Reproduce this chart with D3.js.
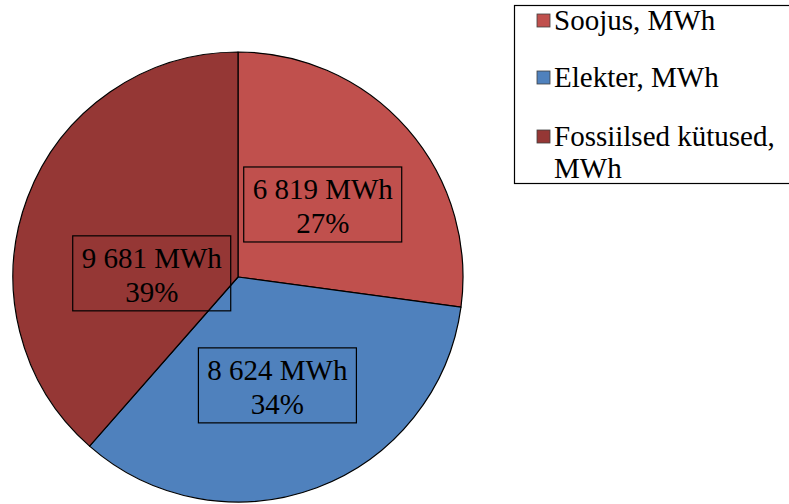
<!DOCTYPE html>
<html>
<head>
<meta charset="utf-8">
<script src="https://cdn.jsdelivr.net/npm/d3@7/dist/d3.min.js"></script>
<style>
  html, body { margin: 0; padding: 0; background: #fff; }
  svg { display: block; }
</style>
</head>
<body>
<svg id="chart" width="789" height="504"></svg>
<script>
const categories = ["Soojus, MWh", "Elekter, MWh", "Fossiilsed kütused, MWh"];
const legendLines = [["Soojus, MWh"], ["Elekter, MWh"], ["Fossiilsed kütused,", "MWh"]];
const values = [6819, 8624, 9681];
const valueLabels = ["6 819 MWh", "8 624 MWh", "9 681 MWh"];
const percentLabels = ["27%", "34%", "39%"];
const colors = ["#C0504D", "#4F81BD", "#953735"];

const FONT = "'Liberation Serif', 'Times New Roman', serif";
const svg = d3.select("#chart");
const cx = 238, cy = 277, r = 225;

const pie = d3.pie().sort(null).value(d => d)(values);
const arc = d3.arc().innerRadius(0).outerRadius(r);
const labelArc = d3.arc().innerRadius(r * 0.5).outerRadius(r * 0.5);

const g = svg.append("g").attr("transform", `translate(${cx},${cy})`);
g.selectAll("path.slice").data(pie).join("path")
  .attr("class", "slice")
  .attr("d", arc)
  .attr("fill", (d, i) => colors[i])
  .attr("stroke", "#000")
  .attr("stroke-width", 1.2)
  .attr("stroke-linejoin", "round");

// label nudges (layout, Excel best-fit)
const nudge = [[0, 1.5], [0, 3], [19, 36]];
const boxW = 158, boxH = 75;
const labels = g.selectAll("g.lbl").data(pie).join("g")
  .attr("class", "lbl")
  .attr("transform", (d, i) => {
    const c = labelArc.centroid(d);
    return `translate(${c[0] + nudge[i][0]},${c[1] + nudge[i][1]})`;
  });
labels.append("rect")
  .attr("x", -boxW / 2).attr("y", -boxH / 2)
  .attr("width", boxW).attr("height", boxH)
  .attr("fill", "none").attr("stroke", "#000").attr("stroke-width", 1.2);
labels.append("text")
  .attr("text-anchor", "middle").attr("y", -5.5)
  .attr("font-family", FONT).attr("font-size", 29)
  .text((d, i) => valueLabels[i]);
labels.append("text")
  .attr("text-anchor", "middle").attr("y", 28.5)
  .attr("font-family", FONT).attr("font-size", 29)
  .text((d, i) => percentLabels[i]);

// legend
const leg = svg.append("g");
leg.append("rect")
  .attr("x", 514.5).attr("y", 5.5).attr("width", 300).attr("height", 178)
  .attr("fill", "#fff").attr("stroke", "#000").attr("stroke-width", 1.2);
const baselines = [30, 87, 146];
const items = leg.selectAll("g.item").data(categories).join("g").attr("class", "item");
items.append("rect")
  .attr("x", 537).attr("y", (d, i) => baselines[i] - 16)
  .attr("width", 13).attr("height", 13)
  .attr("fill", (d, i) => colors[i])
  .attr("stroke", "#404040").attr("stroke-width", 0.8);
items.append("text")
  .attr("x", 554).attr("y", (d, i) => baselines[i])
  .attr("font-family", FONT).attr("font-size", 29)
  .each(function(d, i) {
    const t = d3.select(this);
    legendLines[i].forEach((line, j) => {
      t.append("tspan").attr("x", 554).attr("dy", j === 0 ? 0 : 32).text(line);
    });
  });
</script>
</body>
</html>
